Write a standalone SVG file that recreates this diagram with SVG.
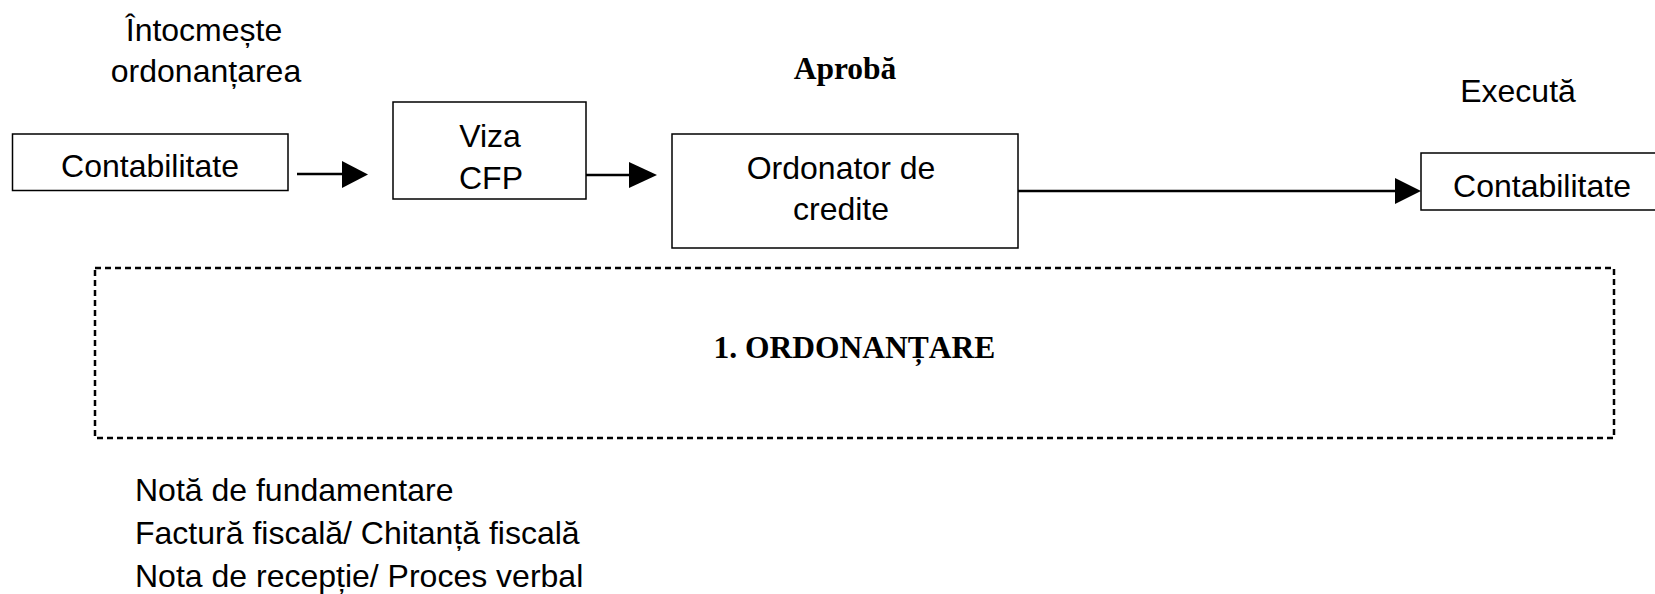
<svg xmlns="http://www.w3.org/2000/svg" width="1655" height="594" viewBox="0 0 1655 594">
<style>
.t{font-family:"Liberation Sans",Arial,sans-serif;font-size:32px;fill:#000}
.b{font-family:"Liberation Serif","Times New Roman",serif;font-size:31.5px;font-weight:bold;fill:#000}
.box{fill:#fff;stroke:#000;stroke-width:1.5}
.ln{stroke:#000;stroke-width:2.5;fill:none}
.dot{fill:none;stroke:#000;stroke-width:2.5;stroke-dasharray:6 4}
</style>
<rect width="1655" height="594" fill="#fff"/>
<g id="labels">
<text class="t" x="204" y="41" text-anchor="middle">Întocmește</text>
<text class="t" x="206" y="82" text-anchor="middle">ordonanțarea</text>
<text class="b" x="845" y="79" text-anchor="middle">Aprobă</text>
<text class="t" x="1518" y="102" text-anchor="middle">Execută</text>
</g>
<g id="connectors">
<line class="ln" x1="297" y1="174" x2="344" y2="174"/>
<polygon points="342,161 368,174.5 342,188"/>
<line class="ln" x1="586" y1="175" x2="631" y2="175"/>
<polygon points="629,162 657,175 629,188"/>
<line class="ln" x1="1018" y1="191" x2="1397" y2="191"/>
<polygon points="1395,178 1421,191 1395,204"/>
</g>
<g id="node-contabilitate1">
<rect class="box" x="12.5" y="134" width="275.5" height="56.5"/>
<text class="t" x="150" y="177" text-anchor="middle">Contabilitate</text>
</g>
<g id="node-viza">
<rect class="box" x="393" y="102" width="193" height="97"/>
<text class="t" x="490" y="147" text-anchor="middle">Viza</text>
<text class="t" x="491" y="189" text-anchor="middle">CFP</text>
</g>
<g id="node-ordonator">
<rect class="box" x="672" y="134" width="346" height="114"/>
<text class="t" x="841" y="179" text-anchor="middle">Ordonator de</text>
<text class="t" x="841" y="220" text-anchor="middle">credite</text>
</g>
<g id="node-contabilitate2">
<rect class="box" x="1421" y="153" width="260" height="57"/>
<text class="t" x="1542" y="197" text-anchor="middle">Contabilitate</text>
</g>
<g id="node-ordonantare">
<rect class="dot" x="95" y="268" width="1519" height="170"/>
<text class="b" x="854.5" y="358" text-anchor="middle">1. ORDONANȚARE</text>
</g>
<g id="documents">
<text class="t" x="135" y="501">Notă de fundamentare</text>
<text class="t" x="135" y="544">Factură fiscală/ Chitanță fiscală</text>
<text class="t" x="135" y="587">Nota de recepție/ Proces verbal</text>
</g>
</svg>
